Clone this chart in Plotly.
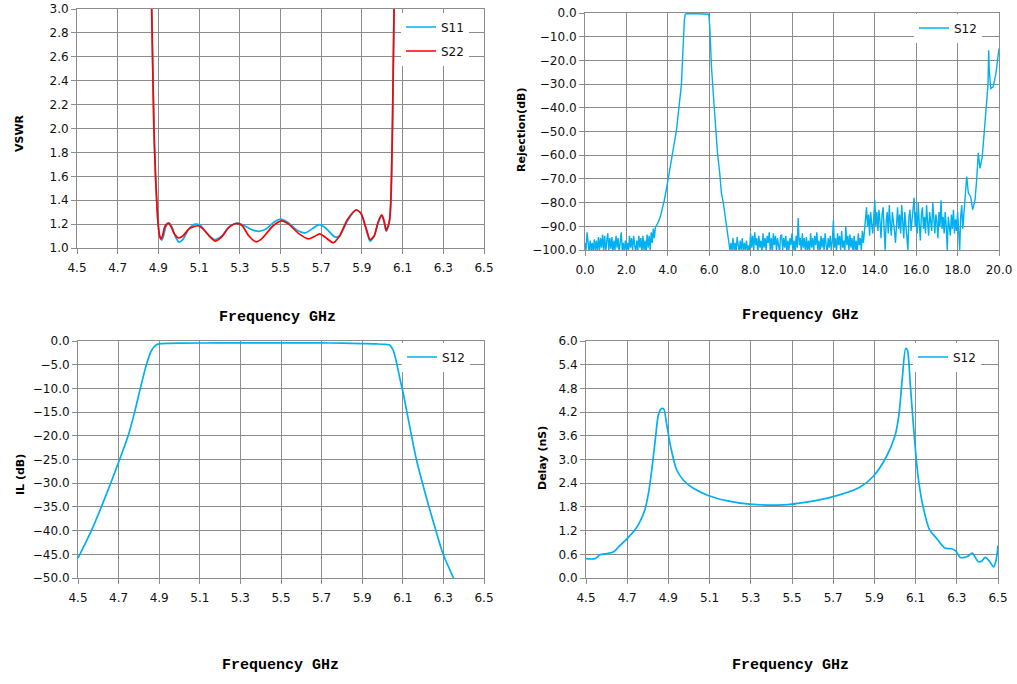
import plotly.graph_objects as go

# ---- VSWR (top left) ----
vswr_freq_s11 = [4.862, 4.867, 4.878, 4.886, 4.893, 4.900, 4.908, 4.916, 4.925, 4.937,
                 4.953, 4.968, 4.985, 5.002, 5.020, 5.050, 5.081, 5.105, 5.140, 5.175,
                 5.210, 5.250, 5.290, 5.330, 5.365, 5.397, 5.430, 5.470, 5.500, 5.540,
                 5.580, 5.620, 5.655, 5.690, 5.720, 5.767, 5.790, 5.830, 5.871, 5.895,
                 5.920, 5.940, 5.960, 5.980, 5.998, 6.010, 6.020, 6.030, 6.037, 6.043,
                 6.050, 6.058, 6.062]
vswr_s11 = [3.30, 3.00, 2.00, 1.60, 1.35, 1.17, 1.09, 1.066, 1.10, 1.18,
            1.208, 1.17, 1.09, 1.049, 1.07, 1.16, 1.20, 1.19, 1.12, 1.071,
            1.10, 1.18, 1.208, 1.18, 1.15, 1.14, 1.16, 1.22, 1.241, 1.21,
            1.15, 1.126, 1.16, 1.195, 1.17, 1.093, 1.10, 1.23, 1.318, 1.29,
            1.16, 1.058, 1.10, 1.21, 1.268, 1.21, 1.14, 1.18, 1.24, 1.40,
            2.00, 3.00, 3.30]

vswr_freq_s22 = [4.862, 4.867, 4.878, 4.886, 4.893, 4.900, 4.906, 4.912, 4.920, 4.932,
                 4.949, 4.962, 4.978, 4.999, 5.020, 5.050, 5.080, 5.095, 5.120, 5.150,
                 5.180, 5.210, 5.245, 5.282, 5.310, 5.345, 5.380, 5.410, 5.460, 5.504,
                 5.540, 5.590, 5.636, 5.665, 5.693, 5.720, 5.760, 5.790, 5.830, 5.871,
                 5.895, 5.920, 5.940, 5.960, 5.980, 5.998, 6.010, 6.019, 6.028, 6.036,
                 6.042, 6.050, 6.058, 6.062]
vswr_s22 = [3.30, 3.00, 2.00, 1.60, 1.35, 1.18, 1.10, 1.077, 1.10, 1.18,
            1.208, 1.18, 1.12, 1.085, 1.10, 1.16, 1.182, 1.186, 1.16, 1.10,
            1.058, 1.09, 1.17, 1.205, 1.19, 1.10, 1.052, 1.08, 1.18, 1.227,
            1.20, 1.12, 1.077, 1.095, 1.118, 1.09, 1.044, 1.10, 1.24, 1.318,
            1.29, 1.17, 1.071, 1.10, 1.22, 1.277, 1.22, 1.148, 1.18, 1.236,
            1.40, 2.00, 3.00, 3.30]

# ---- Rejection S12, 0-20 GHz (top right) ----
# low band noise floor, 0.00 - 3.35 GHz
rej_freq_low = [0.00, 0.05, 0.10, 0.15, 0.20, 0.25, 0.30, 0.35, 0.40, 0.45,
                0.50, 0.55, 0.60, 0.65, 0.70, 0.75, 0.80, 0.85, 0.90, 0.95,
                1.00, 1.05, 1.10, 1.15, 1.20, 1.25, 1.30, 1.35, 1.40, 1.45,
                1.50, 1.55, 1.60, 1.65, 1.70, 1.75, 1.80, 1.85, 1.90, 1.95,
                2.00, 2.05, 2.10, 2.15, 2.20, 2.25, 2.30, 2.35, 2.40, 2.45,
                2.50, 2.55, 2.60, 2.65, 2.70, 2.75, 2.80, 2.85, 2.90, 2.95,
                3.00, 3.05, 3.10, 3.15, 3.20, 3.25, 3.30, 3.35]
rej_low = [-97, -100, -92.5, -99, -101, -96, -100, -97, -101, -95.5,
           -100, -96, -101, -94.5, -100, -95, -99, -93.5, -100, -94,
           -101, -96, -93, -100, -95, -99.5, -94.5, -101, -96, -100,
           -94, -99, -95, -101, -96, -92.5, -100, -97, -101, -96,
           -100, -97, -101, -94, -99, -95, -100, -94, -98, -101,
           -96, -100, -94, -99, -95, -101, -94, -100, -96, -101,
           -93.5, -99, -94, -100, -92.5, -97, -91, -95]

# pass band and skirts, 3.4 - 6.96 GHz
rej_freq_pass = [3.40, 3.50, 3.64, 3.73, 3.83, 3.92, 4.00, 4.10, 4.20, 4.31,
                 4.42, 4.55, 4.61, 4.66, 4.71, 4.75, 4.80, 4.84, 4.90, 5.20,
                 5.50, 5.80, 5.98, 6.03, 6.06, 6.11, 6.22, 6.32, 6.40, 6.51,
                 6.59, 6.68, 6.77, 6.88, 6.96]
rej_pass = [-90.5, -89, -86, -83, -79, -75, -70.5, -66, -60.7, -55,
            -49.4, -40, -35, -30, -20, -10, -3, -0.5, -0.3, -0.2,
            -0.2, -0.2, -0.5, -6, -13, -22.8, -36.8, -50.8, -59, -67.7,
            -76, -80, -86, -93, -99]

# upper stop band noise floor, 7.00 - 13.45 GHz
rej_freq_mid = [7.00, 7.05, 7.10, 7.15, 7.20, 7.25, 7.30, 7.35, 7.40, 7.45,
                7.50, 7.55, 7.60, 7.65, 7.70, 7.75, 7.80, 7.85, 7.90, 7.95,
                8.00, 8.05, 8.10, 8.15, 8.20, 8.25, 8.30, 8.35, 8.40, 8.45,
                8.50, 8.55, 8.60, 8.65, 8.70, 8.75, 8.80, 8.85, 8.90, 8.95,
                9.00, 9.05, 9.10, 9.15, 9.20, 9.25, 9.30, 9.35, 9.40, 9.45,
                9.50, 9.55, 9.60, 9.65, 9.70, 9.75, 9.80, 9.85, 9.90, 9.95,
                10.00, 10.05, 10.10, 10.15, 10.20, 10.25, 10.30, 10.35, 10.40, 10.45,
                10.50, 10.55, 10.60, 10.65, 10.70, 10.75, 10.80, 10.85, 10.90, 10.95,
                11.00, 11.05, 11.10, 11.15, 11.20, 11.25, 11.30, 11.35, 11.40, 11.45,
                11.50, 11.55, 11.60, 11.65, 11.70, 11.75, 11.80, 11.85, 11.90, 11.95,
                12.00, 12.05, 12.10, 12.15, 12.20, 12.25, 12.30, 12.35, 12.40, 12.45,
                12.50, 12.55, 12.60, 12.65, 12.70, 12.75, 12.80, 12.85, 12.90, 12.95,
                13.00, 13.05, 13.10, 13.15, 13.20, 13.25, 13.30, 13.35, 13.40, 13.45]
rej_mid = [-100, -97, -101, -95, -100, -97, -101, -94.5, -99, -101,
           -96, -100, -95, -101, -97, -100, -96, -101, -98, -100,
           -93, -99, -94, -100, -92.5, -98, -95, -101, -94, -99,
           -96, -101, -93, -99, -95, -100, -94, -97, -92.5, -100,
           -95, -101, -93, -98, -94, -100, -95, -99, -101, -94,
           -93.5, -100, -95, -99, -94, -101, -96, -100, -95, -98,
           -93, -100, -96, -101, -94, -99, -86.5, -98, -95, -101,
           -93, -99, -95, -101, -94.5, -100, -96, -101, -93, -99,
           -95, -100, -94, -98, -92.5, -100, -96, -101, -94, -99,
           -95, -100, -93, -98, -101, -95, -99, -94, -100, -96,
           -87.5, -99, -95, -101, -93, -98, -94, -100, -92, -99,
           -96, -101, -90, -98, -94, -100, -93.5, -99, -95, -101,
           -94, -100, -96, -102, -93, -98, -95, -100, -92, -97]

# raised noise floor, 13.50 - 18.30 GHz
rej_freq_high = [13.50, 13.55, 13.60, 13.65, 13.70, 13.75, 13.80, 13.85, 13.90, 13.95,
                 14.00, 14.05, 14.10, 14.15, 14.20, 14.25, 14.30, 14.35, 14.40, 14.45,
                 14.50, 14.55, 14.60, 14.65, 14.70, 14.75, 14.80, 14.85, 14.90, 14.95,
                 15.00, 15.05, 15.10, 15.15, 15.20, 15.25, 15.30, 15.35, 15.40, 15.45,
                 15.50, 15.55, 15.60, 15.65, 15.70, 15.75, 15.80, 15.85, 15.90, 15.95,
                 16.00, 16.05, 16.10, 16.15, 16.20, 16.25, 16.30, 16.35, 16.40, 16.45,
                 16.50, 16.55, 16.60, 16.65, 16.70, 16.75, 16.80, 16.85, 16.90, 16.95,
                 17.00, 17.05, 17.10, 17.15, 17.20, 17.25, 17.30, 17.35, 17.40, 17.45,
                 17.50, 17.55, 17.60, 17.65, 17.70, 17.75, 17.80, 17.85, 17.90, 17.95,
                 18.00, 18.05, 18.10, 18.15, 18.20, 18.25, 18.30]
rej_high = [-91, -86, -82, -90, -85, -94, -84, -89, -93, -86,
            -79, -90, -84, -92, -83, -88, -95, -85, -82, -91,
            -100, -88, -84, -93, -81, -89, -94, -84, -87, -92,
            -97, -86, -82, -91, -85, -93, -81, -88, -95, -84,
            -89, -93, -100, -86, -83, -92, -86, -81, -78, -90,
            -84, -93, -80, -89, -96, -85, -82, -91, -86, -93,
            -81, -88, -94, -84, -87, -92, -80, -89, -93, -85,
            -88, -95, -84, -90, -79, -91, -86, -93, -84, -90,
            -100, -86, -89, -94, -85, -91, -83, -93, -87, -92,
            -84, -95, -100, -86, -81, -91, -86]

# spurious response above 18.3 GHz
rej_freq_top = [18.44, 18.52, 18.63, 18.73, 18.84, 18.92, 19.00, 19.08, 19.19, 19.32,
                19.40, 19.47, 19.50, 19.53, 19.60, 19.72, 19.85, 20.00]
rej_top = [-69, -76, -77.5, -83, -79, -70.5, -59, -65.6, -60.7, -46.6,
           -35.4, -30, -15.7, -24, -31.9, -31.2, -25.6, -15]

# ---- Insertion loss (bottom left) ----
il_freq = [4.500, 4.566, 4.615, 4.661, 4.705, 4.747, 4.779, 4.807, 4.837, 4.862,
           4.886, 4.910, 4.950, 5.000, 5.200, 5.500, 5.700, 5.800, 5.900, 5.970,
           6.015, 6.037, 6.053, 6.069, 6.086, 6.102, 6.143, 6.167, 6.197, 6.229,
           6.263, 6.299, 6.352]
il_s12 = [-45.8, -40.0, -35.0, -30.0, -25.0, -20.0, -15.0, -10.0, -5.0, -2.0,
          -0.8, -0.55, -0.48, -0.45, -0.40, -0.38, -0.40, -0.45, -0.55, -0.62,
          -0.72, -0.9, -2.0, -4.5, -8.0, -11.0, -20.0, -25.0, -30.0, -35.0,
          -40.0, -45.0, -50.2]

# ---- Group delay (bottom right) ----
delay_freq = [4.500, 4.544, 4.568, 4.600, 4.633, 4.657, 4.702, 4.738, 4.762, 4.786,
              4.806, 4.823, 4.838, 4.851, 4.864, 4.877, 4.891, 4.911, 4.940, 4.972,
              5.021, 5.093, 5.182, 5.295, 5.457, 5.570, 5.700, 5.829, 5.894, 5.958,
              5.999, 6.020, 6.036, 6.052, 6.060, 6.074, 6.091, 6.112, 6.136, 6.168,
              6.201, 6.241, 6.273, 6.294, 6.317, 6.354, 6.375, 6.403, 6.419, 6.438,
              6.459, 6.479, 6.491, 6.500]
delay_s12 = [0.49, 0.49, 0.59, 0.62, 0.66, 0.78, 1.01, 1.22, 1.43, 1.73,
             2.23, 2.90, 3.58, 4.12, 4.28, 4.28, 3.91, 3.32, 2.74, 2.48,
             2.27, 2.09, 1.96, 1.87, 1.85, 1.92, 2.06, 2.30, 2.57, 3.07,
             3.58, 4.17, 5.09, 5.81, 5.77, 4.92, 3.75, 2.57, 1.81, 1.22,
             1.01, 0.76, 0.74, 0.69, 0.52, 0.55, 0.63, 0.42, 0.42, 0.52,
             0.42, 0.28, 0.46, 0.82]

rej_freq = rej_freq_low + rej_freq_pass + rej_freq_mid + rej_freq_high + rej_freq_top
rej_s12 = rej_low + rej_pass + rej_mid + rej_high + rej_top

BLUE = '#00b0f0'
RED = '#ff0000'
GRID = '#8c8c8c'
W, H = 1017, 684


def px(p):
    return p / W


def py(p):
    return 1 - p / H


def dom_x(a, b):
    return [px(a), px(b)]


def dom_y(top, bottom):
    return [py(bottom), py(top)]


fig = go.Figure()

fig.add_trace(go.Scatter(x=vswr_freq_s11, y=vswr_s11, name='S11', mode='lines',
                         line=dict(color=BLUE, width=1.7, shape='spline', smoothing=0.7),
                         xaxis='x', yaxis='y', legend='legend'))
fig.add_trace(go.Scatter(x=vswr_freq_s22, y=vswr_s22, name='S22', mode='lines',
                         line=dict(color=RED, width=1.7, shape='spline', smoothing=0.7),
                         xaxis='x', yaxis='y', legend='legend2'))
fig.add_trace(go.Scatter(x=rej_freq, y=rej_s12, name='S12', mode='lines',
                         line=dict(color=BLUE, width=1.4),
                         xaxis='x2', yaxis='y2', legend='legend3'))
fig.add_trace(go.Scatter(x=il_freq, y=il_s12, name='S12', mode='lines',
                         line=dict(color=BLUE, width=1.7, shape='spline', smoothing=0.8),
                         xaxis='x3', yaxis='y3', legend='legend4'))
fig.add_trace(go.Scatter(x=delay_freq, y=delay_s12, name='S12', mode='lines',
                         line=dict(color=BLUE, width=1.7, shape='spline', smoothing=0.8),
                         xaxis='x4', yaxis='y4', legend='legend5'))

tick_font = dict(family='DejaVu Sans', size=12, color='#111111')
axis_common = dict(showgrid=True, gridcolor=GRID, gridwidth=1, showline=True,
                   linecolor=GRID, linewidth=1, mirror=True, zeroline=False,
                   ticks='outside', ticklen=5, tickcolor=GRID, tickfont=tick_font,
                   tickformat='.1f', automargin=False, ticklabeloverflow='allow')

layout = dict(
    width=W, height=H,
    margin=dict(l=0, r=0, t=0, b=0, pad=0, autoexpand=False),
    paper_bgcolor='white', plot_bgcolor='white', showlegend=True,
    xaxis=dict(domain=dom_x(77, 484), anchor='y', range=[4.5, 6.5], dtick=0.2, tick0=4.5,
               ticklabelstandoff=4, **axis_common),
    yaxis=dict(domain=dom_y(9, 248), anchor='x', range=[1.0, 3.0], dtick=0.2, **axis_common),
    xaxis2=dict(domain=dom_x(585, 999), anchor='y2', range=[0, 20], dtick=2,
                ticklabelstandoff=4, **axis_common),
    yaxis2=dict(domain=dom_y(13, 250), anchor='x2', range=[-100, 0], dtick=10, **axis_common),
    xaxis3=dict(domain=dom_x(78, 484), anchor='y3', range=[4.5, 6.5], dtick=0.2, tick0=4.5,
                ticklabelstandoff=4, **axis_common),
    yaxis3=dict(domain=dom_y(341, 578), anchor='x3', range=[-50, 0], dtick=5, **axis_common),
    xaxis4=dict(domain=dom_x(586, 998), anchor='y4', range=[4.5, 6.5], dtick=0.2, tick0=4.5,
                ticklabelstandoff=4, **axis_common),
    yaxis4=dict(domain=dom_y(341, 578), anchor='x4', range=[0, 6], dtick=0.6, **axis_common),
)

legend_common = dict(bgcolor='white', borderwidth=0, itemwidth=30, xanchor='left',
                     yanchor='middle', font=dict(family='DejaVu Sans', size=12, color='#111111'))
legend_pos = {'legend': (401, 27), 'legend2': (401, 51), 'legend3': (914, 28),
              'legend4': (402, 357), 'legend5': (913, 357)}
for key, (lx, ly) in legend_pos.items():
    layout[key] = dict(x=px(lx), y=py(ly), **legend_common)

fig.update_layout(**layout)

x_title_font = dict(family='Liberation Mono', size=15, color='#000000', weight='bold')
y_title_font = dict(family='DejaVu Sans', size=11, color='#000000', weight='bold')
x_titles = [(277, 317), (800, 315), (280, 665), (790, 665)]
y_titles = [('VSWR', 20, 133), ('Rejection(dB)', 522, 130),
            ('IL (dB)', 20, 475), ('Delay (nS)', 542, 458)]
for ax, ay in x_titles:
    fig.add_annotation(text='Frequency GHz', x=px(ax), y=py(ay), xref='paper', yref='paper',
                       showarrow=False, font=x_title_font, xanchor='center', yanchor='middle')
for txt, ax, ay in y_titles:
    fig.add_annotation(text=txt, x=px(ax), y=py(ay), xref='paper', yref='paper',
                       showarrow=False, font=y_title_font, textangle=-90,
                       xanchor='center', yanchor='middle')

# drop the default 8px body margin so the figure sits at the window's corner
fig.write_html("out.html", config={'displayModeBar': False},
               post_script="document.body.style.margin = '0px';")
